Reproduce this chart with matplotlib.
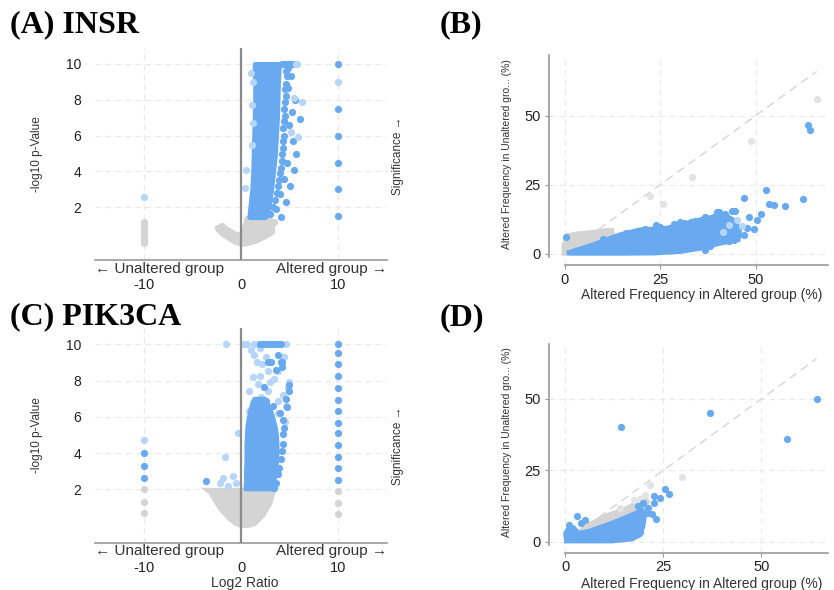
import matplotlib
matplotlib.use('Agg')
import matplotlib.pyplot as plt

plt.rcParams['font.family'] = ['Liberation Sans', 'DejaVu Sans']
plt.rcParams['axes.unicode_minus'] = False

blue = '#68a9ef'
light_blue = '#b6d5f8'
gray = '#d4d4d4'
light_gray = '#e4e4e4'

# ---------------- (A) INSR volcano ----------------
a_band_y = [1.45, 2.0, 3.0, 4.0, 5.0, 6.0, 7.0, 8.0, 9.0, 10.0]
a_band_left = [0.85, 0.95, 1.15, 1.25, 1.3, 1.35, 1.4, 1.45, 1.45, 1.4]
a_band_right = [2.5, 2.8, 3.1, 3.3, 3.5, 3.6, 3.7, 3.75, 3.8, 3.9]
a_rim_x = [3.0, 3.3, 3.5, 3.7, 3.8, 3.9, 4.0, 4.1, 4.2, 4.2, 4.3, 4.3, 4.4, 4.3, 4.4, 4.5, 4.4, 4.5, 4.6, 4.5, 4.6, 4.7, 4.6, 4.8]
a_rim_y = [1.6, 2.0, 2.4, 2.8, 3.2, 3.5, 3.9, 4.2, 4.6, 5.0, 5.3, 5.7, 6.0, 6.4, 6.8, 7.1, 7.5, 7.9, 8.2, 8.6, 8.9, 9.3, 9.6, 9.8]
a_out_x = [5.1, 4.8, 5.5, 6.05, 4.95, 5.65, 4.7, 5.4, 4.4, 5.05, 4.0, 4.6, 3.6, 4.1, 5.2, 5.3, 4.2, 4.5, 4.8, 5.1, 5.35]
a_out_y = [9.3, 8.65, 8.0, 6.9, 6.6, 5.0, 4.45, 4.1, 3.6, 3.2, 2.75, 2.3, 1.9, 1.45, 7.3, 5.7, 10, 10, 10, 10, 10]
a_light_x = [6.25, 5.4, 5.1, 5.9, 0.5, 0.45, 1.2, 1.15, 5.6, 1.2, 1.1, 1.0, -10, 10, 5.75]
a_light_y = [7.85, 8.1, 6.2, 5.95, 4.1, 3.1, 9.0, 7.7, 10.0, 6.7, 5.5, 9.5, 2.6, 9.0, 10.0]
a_col_y = [10, 7.5, 6.0, 4.5, 3.0, 1.5]
a_neg_gray_y = [0, 0.15, 0.3, 0.45, 0.6, 0.75, 0.9, 1.05, 1.2]
a_gray_x = [-2.4, -2.0, -1.5, -1.0, -0.5, 0.0, 0.5, 0.9, 1.5, 2.5, 3.0, 3.3, 3.1, 2.5, 1.5, 0.5, 0.0, -0.6, -1.2, -1.8, -2.3]
a_gray_y = [0.85, 0.95, 0.8, 0.65, 0.5, 0.45, 1.1, 1.45, 1.45, 1.45, 1.35, 1.0, 0.55, 0.35, 0.1, -0.05, -0.05, 0.05, 0.25, 0.45, 0.7]
a_gray_dot_x = [-2.4, -2.0, -1.6, 3.1, 3.35, 2.2, 2.9, 0.6]
a_gray_dot_y = [0.85, 0.95, 0.8, 0.67, 1.2, 0.45, 1.0, 1.35]

# ---------------- (C) PIK3CA volcano ----------------
c_band_y = [2.05, 2.5, 3.0, 3.5, 4.0, 4.5, 5.0, 5.5, 6.0, 6.5, 7.0]
c_band_left = [0.45, 0.5, 0.5, 0.55, 0.55, 0.55, 0.6, 0.65, 0.8, 1.0, 1.35]
c_band_right = [3.2, 3.35, 3.5, 3.6, 3.65, 3.65, 3.6, 3.45, 3.2, 2.9, 2.4]
c_rim_x = [3.4, 3.6, 3.76, 3.93, 4.1, 4.2, 4.35, 4.35, 4.4, 4.3, 4.0]
c_rim_y = [2.1, 2.37, 2.83, 3.2, 3.67, 4.13, 4.5, 5.05, 5.4, 5.8, 6.2]
c_up_x = [4.2, 4.2, 4.9, 4.9, 4.7, 4.65, 2.74, 3.76, 3.6, 2.4, 2.56, 3.25, 2.05, 3.1, 4.1, -3.6,
          2.0, 2.3, 2.6, 2.9, 3.2, 3.5, 3.8, 4.1]
c_up_y = [9.05, 8.75, 7.75, 7.45, 6.55, 7.0, 9.04, 9.4, 8.56, 7.65, 6.9, 6.6, 6.35, 9.0, 9.0, 2.45,
          10, 10, 10, 10, 10, 10, 10, 10]
c_light_x = [1.37, 2.56, 4.3, 3.76, 2.74, 1.9, 1.2, 3.4, 4.95, 4.8, 1.7, 0.85, 2.74, 4.3, 4.6, 3.76,
             0.85, 1.37, 4.5, 0.85, -0.35, -1.65, -1.9, -0.85, -0.5, -2.2, -1.3, -1.5, 0.3, 0.6,
             1.3, 1.7, 4.6, -10, 4.45, 1.6, 2.2, 3.0, 2.1, 1.2, 1.5, 3.76, 1.0, 2.0]
c_light_y = [9.4, 9.3, 9.3, 8.55, 8.55, 8.27, 8.2, 8.1, 7.9, 7.6, 7.8, 7.4, 7.4, 7.2, 6.6, 6.9,
             6.3, 5.7, 5.7, 5.1, 5.1, 3.8, 2.63, 2.75, 2.35, 2.35, 2.2, 10, 10, 10,
             10, 10, 10, 4.7, 9.3, 9.0, 8.9, 7.9, 7.1, 6.8, 6.2, 6.2, 9.7, 9.8]
c_col_blue_y = [10.0, 9.55, 8.9, 8.27, 7.6, 6.95, 6.3, 5.65, 5.1, 4.45, 3.8, 3.17, 2.54]
c_col_gray_y = [1.9, 1.27, 0.63]
c_neg_blue_y = [3.98, 3.3, 2.65]
c_neg_gray_y = [2.0, 1.3, 0.67]
c_gray_x = [-3.4, -3.15, -2.6, -2.0, -1.2, -0.5, 0.0, 0.7, 1.4, 2.3, 3.0, 3.3, 3.4, 2.5, 1.0, 0.0, -1.0, -2.5]
c_gray_y = [1.95, 1.85, 1.35, 0.85, 0.4, 0.1, 0.0, 0.0, 0.1, 0.6, 1.26, 1.85, 2.0, 2.0, 2.0, 1.95, 1.95, 1.95]

# ---------------- (B) frequency scatter INSR ----------------
b_blue_x = [0.6, 7.5, 14.5, 19.7, 26.8, 32.0, 37.3, 41.7, 44.5, 45.8, 45.4, 40.8, 35.5, 30.3, 23.2, 14.5, 2.1]
b_blue_y = [0.3, 3.3, 6.9, 8.7, 9.3, 11.1, 12.9, 14.1, 12.0, 8.7, 5.1, 3.9, 2.0, 0.85, 0.3, 0.2, 0.2]
b_gray_x = [-0.2, -0.2, 0.9, 3.1, 7.5, 11.0, 12.3, 12.7, 7.5, 3.0, 0.4]
b_gray_y = [0.2, 3.3, 6.6, 7.2, 7.8, 8.5, 8.5, 6.3, 3.3, 1.2, 0.2]
b_rim_x = [10, 16, 21, 25, 29, 33, 36, 39, 42, 44, 45.5, 43, 38]
b_rim_y = [5.2, 7.6, 9.0, 9.6, 10.5, 11.6, 12.4, 13.4, 14.5, 11.5, 7.0, 4.5, 3.0]
b_out_x = [63.6, 64.3, 62.5, 52.6, 53.5, 54.8, 57.6, 46.9, 51.3, 50.4, 49.6, 44.7, 43.9, 46.9, 44.3,
           39.9, 36.8, 30.3, 36.8, 31.1, 28.5, 48.2, 0.3, 47.8, 42.5, 40.3, 24.0, 34.0, 44.0]
b_out_y = [46.7, 44.9, 19.9, 23.2, 18.1, 17.5, 17.4, 20.3, 14.4, 12.3, 8.9, 15.6, 15.6, 6.9, 5.1,
           15.3, 13.5, 11.7, 1.45, 11.1, 10.7, 13.5, 6.0, 9.3, 13.0, 15.3, 10.5, 12.0, 10.5]
b_light_x = [43.0, 45.2, 41.5, 46.5]
b_light_y = [10.5, 12.2, 8.0, 10.0]
b_gray_out_x = [66.2, 48.7, 33.3, 22.2, 25.7]
b_gray_out_y = [56.2, 40.7, 27.7, 20.8, 18.1]
b_diag = 66

# ---------------- (D) frequency scatter PIK3CA ----------------
d_blue_x = [0.3, 0.1, 0.85, 2.1, 3.4, 5.9, 11.9, 17.0, 19.6, 20.2, 19.8, 19.0, 17.0, 11.9, 0.3]
d_blue_y = [0.3, 3.0, 4.6, 4.9, 3.0, 3.6, 6.5, 9.4, 11.0, 9.4, 5.4, 2.4, 1.0, 0.3, 0.3]
d_gray_x = [1.3, 5.9, 11.0, 14.9, 17.4, 20.0, 21.0, 19.6, 17.0, 11.9, 5.9, 2.0]
d_gray_y = [1.0, 5.9, 9.4, 11.2, 12.9, 15.8, 14.0, 11.2, 9.4, 6.5, 3.6, 0.5]
d_out_x = [14.3, 37.0, 56.6, 64.2, 25.5, 26.4, 22.5, 24.1, 22.7, 19.8, 22.1, 23.0, 19.0, 3.0, 5.1,
           21.0, 20.8, 18.5, 1.0, 4.0]
d_out_y = [40.3, 45.2, 36.0, 50.0, 18.4, 16.8, 15.9, 15.3, 13.5, 13.5, 9.8, 7.9, 3.4, 9.2, 7.7,
           12.0, 10.2, 12.5, 6.0, 6.5]
d_gray_out_x = [29.8, 21.7, 20.4, 17.5, 14.0, 19.0]
d_gray_out_y = [22.5, 19.7, 16.4, 14.5, 12.0, 15.0]
d_diag = 64

S = 27
FLW = 3.5


def volcano(ax, sig_y, xlabel=None):
    ax.set_xlim(-15, 15)
    ax.set_ylim(-0.95, 10.9)
    for s in ['left', 'right', 'top']:
        ax.spines[s].set_visible(False)
    ax.spines['bottom'].set_color('#9a9a9a')
    ax.spines['bottom'].set_linewidth(1.2)
    ax.axvline(0, color='#8a8a8a', lw=1.6, zorder=6)
    ax.set_xticks([-10, 0, 10])
    ax.set_yticks([2, 4, 6, 8, 10])
    ax.tick_params(axis='x', length=0, pad=13, labelsize=10.5, labelcolor='#222222')
    ax.tick_params(axis='y', length=0, pad=10, labelsize=10, labelcolor='#222222')
    ax.grid(True, ls=(0, (5, 4)), color='#e9e9e9', lw=0.8)
    ax.set_axisbelow(True)
    ax.set_ylabel('-log10 p-Value', fontsize=8.5, color='#333333')
    ax.yaxis.set_label_coords(-0.18, 0.5)
    ax.annotate('← Unaltered group', xy=(0, 0), xycoords='axes fraction', xytext=(0, -6),
                textcoords='offset points', ha='left', va='center', fontsize=11, color='#333333')
    ax.annotate('Altered group →', xy=(1, 0), xycoords='axes fraction', xytext=(0, -6),
                textcoords='offset points', ha='right', va='center', fontsize=11, color='#333333')
    ax.text(1.038, sig_y, 'Significance →', transform=ax.transAxes, rotation=90,
            ha='center', va='center', fontsize=8.5, color='#333333')
    if xlabel:
        ax.text(0.514, -0.186, xlabel, transform=ax.transAxes, ha='center', va='center',
                fontsize=10, color='#333333')


def freq(ax, xmax, ymin, ymax, xlab_y):
    ax.set_xlim(-4.2, xmax)
    ax.set_ylim(ymin, ymax)
    for s in ['right', 'top']:
        ax.spines[s].set_visible(False)
    for s in ['left', 'bottom']:
        ax.spines[s].set_color('#9a9a9a')
        ax.spines[s].set_linewidth(1.2)
    ax.spines['left'].set_bounds(-1, ymax)
    ax.spines['bottom'].set_bounds(0, xmax)
    ax.set_xticks([0, 25, 50])
    ax.set_yticks([0, 25, 50])
    ax.tick_params(length=3, color='#9a9a9a', labelsize=10.5, labelcolor='#222222')
    ax.tick_params(axis='x', pad=2.5)
    ax.tick_params(axis='y', pad=3)
    ax.grid(True, ls=(0, (5, 4)), color='#e9e9e9', lw=0.8)
    ax.set_axisbelow(True)
    ax.text(0.548, xlab_y, 'Altered Frequency in Altered group (%)', transform=ax.transAxes,
            ha='center', va='center', fontsize=10, color='#333333')
    ax.text(-0.15, 0.53, 'Altered Frequency in Unaltered gro... (%)', transform=ax.transAxes,
            rotation=90, ha='center', va='center', fontsize=7.5, color='#333333')


fig = plt.figure(figsize=(8.34, 5.90), dpi=100)
axA = fig.add_axes([0.114, 0.559, 0.350, 0.360])
axC = fig.add_axes([0.114, 0.080, 0.350, 0.364])
axB = fig.add_axes([0.658, 0.551, 0.335, 0.356])
axD = fig.add_axes([0.658, 0.063, 0.335, 0.354])

# A
volcano(axA, 0.49)
axA.fill(a_gray_x, a_gray_y, color=gray, lw=FLW, zorder=2)
axA.scatter(a_gray_dot_x, a_gray_dot_y, s=S, color=gray, lw=0, zorder=2)
axA.scatter([-10] * len(a_neg_gray_y), a_neg_gray_y, s=S, color=gray, lw=0, zorder=2)
axA.fill_betweenx(a_band_y, a_band_left, a_band_right, color=blue, lw=FLW, zorder=3)
axA.scatter(a_rim_x, a_rim_y, s=S, color=blue, lw=0, zorder=3)
axA.scatter(a_out_x, a_out_y, s=S, color=blue, lw=0, zorder=3)
axA.scatter([10] * len(a_col_y), a_col_y, s=S, color=blue, lw=0, zorder=3)
axA.scatter(a_light_x, a_light_y, s=S, color=light_blue, lw=0, zorder=3)

# C
volcano(axC, 0.45, 'Log2 Ratio')
axC.fill(c_gray_x, c_gray_y, color=gray, lw=FLW, zorder=2)
axC.scatter([10] * len(c_col_gray_y), c_col_gray_y, s=S, color=gray, lw=0, zorder=2)
axC.scatter([-10] * len(c_neg_gray_y), c_neg_gray_y, s=S, color=gray, lw=0, zorder=2)
axC.scatter(c_light_x, c_light_y, s=S, color=light_blue, lw=0, zorder=3)
axC.fill_betweenx(c_band_y, c_band_left, c_band_right, color=blue, lw=FLW, zorder=3)
axC.scatter(c_rim_x, c_rim_y, s=S, color=blue, lw=0, zorder=3)
axC.scatter(c_up_x, c_up_y, s=S, color=blue, lw=0, zorder=3)
axC.scatter([10] * len(c_col_blue_y), c_col_blue_y, s=S, color=blue, lw=0, zorder=3)
axC.scatter([-10] * len(c_neg_blue_y), c_neg_blue_y, s=S, color=blue, lw=0, zorder=3)

# B
freq(axB, 69, -4, 72, -0.145)
axB.plot([0, b_diag], [0, b_diag], ls=(0, (6, 4)), color='#d6d6d6', lw=1, zorder=1)
axB.fill(b_gray_x, b_gray_y, color=gray, lw=FLW, zorder=2)
axB.scatter(b_gray_out_x, b_gray_out_y, s=S, color=light_gray, lw=0, zorder=2)
axB.fill(b_blue_x, b_blue_y, color=blue, lw=FLW, zorder=3)
axB.scatter(b_rim_x, b_rim_y, s=S, color=blue, lw=0, zorder=3)
axB.scatter(b_out_x, b_out_y, s=S, color=blue, lw=0, zorder=3)
axB.scatter(b_light_x, b_light_y, s=S, color=light_blue, lw=0, zorder=3)

# D
freq(axD, 67, -3.85, 69.2, -0.15)
axD.plot([0, d_diag], [0, d_diag], ls=(0, (6, 4)), color='#d6d6d6', lw=1, zorder=1)
axD.fill(d_gray_x, d_gray_y, color=gray, lw=FLW, zorder=2)
axD.scatter(d_gray_out_x, d_gray_out_y, s=S, color=light_gray, lw=0, zorder=2)
axD.fill(d_blue_x, d_blue_y, color=blue, lw=FLW, zorder=3)
axD.scatter(d_out_x, d_out_y, s=S, color=blue, lw=0, zorder=3)

title_kw = dict(fontfamily='Liberation Serif', fontweight='bold', fontsize=23, va='center', ha='left')
fig.text(0.012, 0.958, '(A) INSR', **title_kw)
fig.text(0.527, 0.958, '(B)', **title_kw)
fig.text(0.012, 0.463, '(C) PIK3CA', **title_kw)
fig.text(0.527, 0.461, '(D)', **title_kw)

fig.savefig('out.png', dpi=100)
